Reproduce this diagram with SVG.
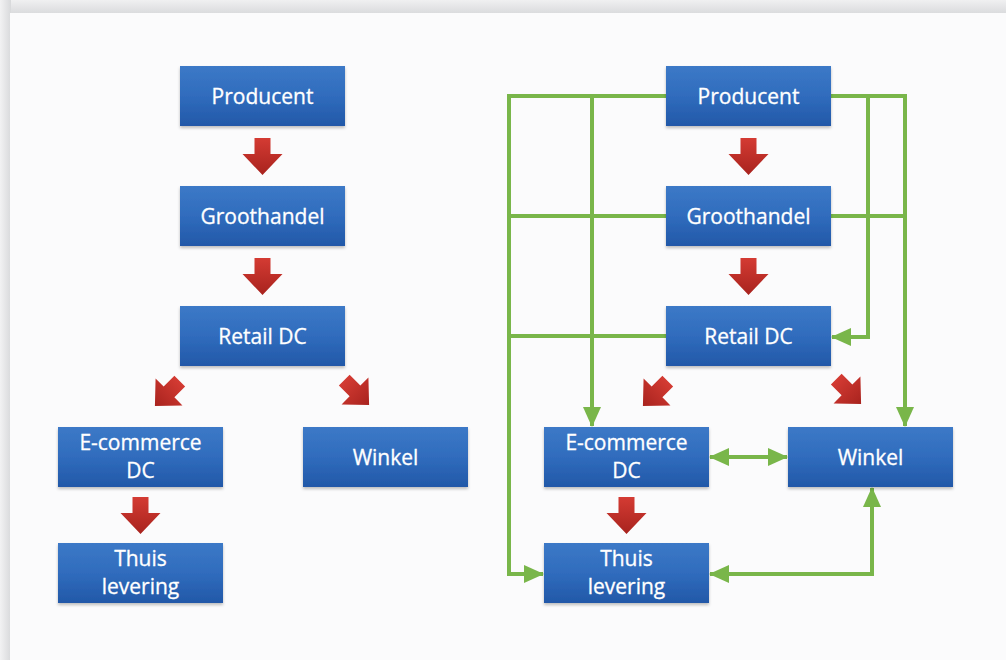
<svg xmlns="http://www.w3.org/2000/svg" width="1006" height="660" viewBox="0 0 1006 660">
<defs>
<linearGradient id="bg-top" x1="0" y1="0" x2="0" y2="1"><stop offset="0" stop-color="#f0f0f1"/><stop offset="1" stop-color="#d9dadc"/></linearGradient>
<linearGradient id="bg-left" x1="0" y1="0" x2="1" y2="0"><stop offset="0" stop-color="#f2f2f3"/><stop offset="1" stop-color="#d8d9db"/></linearGradient>
<linearGradient id="blue" x1="0" y1="0" x2="0" y2="1"><stop offset="0" stop-color="#3c79c7"/><stop offset="0.5" stop-color="#306cbd"/><stop offset="1" stop-color="#2258a8"/></linearGradient>
<linearGradient id="red" x1="0" y1="0" x2="0" y2="1"><stop offset="0" stop-color="#d43b33"/><stop offset="1" stop-color="#a8231e"/></linearGradient>
<filter id="sh" x="-10%" y="-10%" width="120%" height="130%"><feDropShadow dx="0" dy="2" stdDeviation="1.5" flood-color="#000" flood-opacity="0.25"/></filter>
<polygon id="ra" points="-8,-19 8,-19 8,-3 20,-3 0,18 -20,-3 -8,-3"/>
<marker id="ga" markerUnits="userSpaceOnUse" markerWidth="22" markerHeight="20" refX="19" refY="9" orient="auto-start-reverse" viewBox="0 0 22 20"><path d="M0,0 L20,9 L0,18 z" fill="#79b64a"/></marker>
</defs>
<style>
.box{fill:url(#blue);filter:url(#sh)}
.t{font-family:"Open Sans","Liberation Sans",sans-serif;font-size:21px;fill:#ffffff;stroke:#ffffff;stroke-width:0.3;text-anchor:middle}
.arr{fill:url(#red)}
.g{fill:none;stroke:#79b64a;stroke-width:4;stroke-linejoin:miter}
.ge{marker-end:url(#ga)}
.gb{marker-start:url(#ga);marker-end:url(#ga)}
</style>
<rect x="0" y="0" width="1006" height="660" fill="#e3e4e6"/>
<rect x="0" y="0" width="1006" height="14" fill="url(#bg-top)"/>
<rect x="0" y="0" width="11" height="660" fill="url(#bg-left)"/>
<rect x="10" y="13" width="996" height="647" fill="#fbfbfc"/>

<g id="connectors">
<g id="red-arrows">
<use href="#ra" class="arr" transform="translate(262.5,157)"/>
<use href="#ra" class="arr" transform="translate(262.5,277)"/>
<use href="#ra" class="arr" transform="translate(167,394) rotate(45) scale(0.95)"/>
<use href="#ra" class="arr" transform="translate(357,393) rotate(-45) scale(0.95)"/>
<use href="#ra" class="arr" transform="translate(140.5,516)"/>
<use href="#ra" class="arr" transform="translate(748.5,157)"/>
<use href="#ra" class="arr" transform="translate(748.5,277)"/>
<use href="#ra" class="arr" transform="translate(655,394) rotate(45) scale(0.95)"/>
<use href="#ra" class="arr" transform="translate(849,392) rotate(-45) scale(0.95)"/>
<use href="#ra" class="arr" transform="translate(626.5,516)"/>
</g>
<g id="green-lines">
<path class="g ge" d="M666,96 H509 V574 H543"/>
<path class="g" d="M666,216 H509"/>
<path class="g" d="M666,336 H509"/>
<path class="g ge" d="M592,96 V426"/>
<path class="g ge" d="M831,96 H905 V426"/>
<path class="g" d="M831,216 H905"/>
<path class="g ge" d="M868,96 V337 H832"/>
<path class="g gb" d="M710,457 H787"/>
<path class="g gb" d="M710,574 H872 V488"/>
</g>
</g>

<g id="l-producent"><rect class="box" x="180" y="66" width="165" height="60"/><text class="t" x="262.5" y="104">Producent</text></g>
<g id="l-groothandel"><rect class="box" x="180" y="186" width="165" height="60"/><text class="t" x="262.5" y="224">Groothandel</text></g>
<g id="l-retaildc"><rect class="box" x="180" y="306" width="165" height="60"/><text class="t" x="262.5" y="344">Retail DC</text></g>
<g id="l-ecommerce"><rect class="box" x="58" y="427" width="165" height="60"/><text class="t" x="140.5" y="450">E-commerce</text><text class="t" x="140.5" y="478">DC</text></g>
<g id="l-winkel"><rect class="box" x="303" y="427" width="165" height="60"/><text class="t" x="385.5" y="465">Winkel</text></g>
<g id="l-thuis"><rect class="box" x="58" y="543" width="165" height="60"/><text class="t" x="140.5" y="566">Thuis</text><text class="t" x="140.5" y="594">levering</text></g>

<g id="r-producent"><rect class="box" x="666" y="66" width="165" height="60"/><text class="t" x="748.5" y="104">Producent</text></g>
<g id="r-groothandel"><rect class="box" x="666" y="186" width="165" height="60"/><text class="t" x="748.5" y="224">Groothandel</text></g>
<g id="r-retaildc"><rect class="box" x="666" y="306" width="165" height="60"/><text class="t" x="748.5" y="344">Retail DC</text></g>
<g id="r-ecommerce"><rect class="box" x="544" y="427" width="165" height="60"/><text class="t" x="626.5" y="450">E-commerce</text><text class="t" x="626.5" y="478">DC</text></g>
<g id="r-winkel"><rect class="box" x="788" y="427" width="165" height="60"/><text class="t" x="870.5" y="465">Winkel</text></g>
<g id="r-thuis"><rect class="box" x="544" y="543" width="165" height="60"/><text class="t" x="626.5" y="566">Thuis</text><text class="t" x="626.5" y="594">levering</text></g>
</svg>
